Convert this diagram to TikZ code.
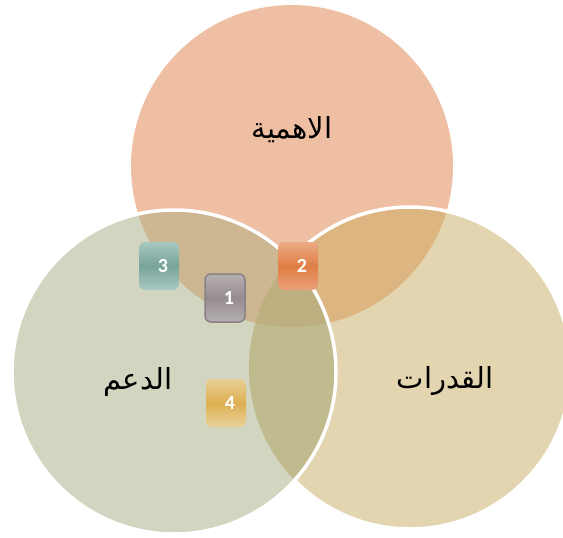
\documentclass[tikz,border=0pt]{standalone}
\usepackage{fontspec}
\setmainfont{Carlito}
\newfontfamily\arabicfont[Script=Arabic]{DejaVu Sans}
\TeXXeTstate=1

\definecolor{topfill}{HTML}{EFBFA3}
\definecolor{leftfill}{HTML}{D2D5BF}
\definecolor{rightfill}{HTML}{E2D5B0}
\definecolor{topleft}{HTML}{CDB692}
\definecolor{topright}{HTML}{DCB581}
\definecolor{leftright}{HTML}{C0BB8F}
\definecolor{allthree}{HTML}{BDAF7F}

\begin{document}
\begin{tikzpicture}[
    x=1pt,
    y=-1pt,
    every node/.style={inner sep=0pt},
    venntext/.style={font=\arabicfont\fontsize{29}{34}\selectfont},
    numbox/.style={minimum width=40pt, minimum height=48pt, rounded corners=6pt},
    numtext/.style={font=\bfseries\fontsize{20}{20}\selectfont, text=white}
]

    \useasboundingbox (0,0) rectangle (563,538);

    % the three circles
    \fill[topfill] (292,166) circle (161);
    \fill[leftfill] (174,372) circle (162);
    \fill[rightfill] (410,368) circle (161);

    % overlaps
    \begin{scope}
        \clip (292,166) circle (161);
        \fill[topleft] (174,372) circle (162);
        \fill[topright] (410,368) circle (161);
    \end{scope}
    \begin{scope}
        \clip (174,372) circle (162);
        \fill[leftright] (410,368) circle (161);
    \end{scope}
    \begin{scope}
        \clip (292,166) circle (161);
        \clip (174,372) circle (162);
        \fill[allthree] (410,368) circle (161);
    \end{scope}

    % white rims
    \begin{scope}[even odd rule]
        \clip (-10,-10) rectangle (600,600) (174,372) circle (162);
        \draw[white, line width=3.5pt] (410,368) circle (161);
    \end{scope}
    \draw[white, line width=3.5pt] (174,372) circle (162);

    % labels
    \node[venntext] (importance) at (292,130) {\beginR الاهمية\endR};
    \node[venntext] (support) at (138,382) {\beginR الدعم\endR};
    \node[venntext] (abilities) at (445,381) {\beginR القدرات\endR};

    % numbered boxes
    \node[numbox, top color={rgb,255:red,168;green,200;blue,194}, bottom color={rgb,255:red,170;green,202;blue,197}, middle color={rgb,255:red,120;green,163;blue,152}] (box3) at (159,266) {};
    \node[numbox, draw={rgb,255:red,138;green,129;blue,133}, line width=1.5pt, top color={rgb,255:red,182;green,176;blue,178}, bottom color={rgb,255:red,182;green,176;blue,178}, middle color={rgb,255:red,149;green,140;blue,144}] (box1) at (225,298) {};
    \node[numbox, top color={rgb,255:red,235;green,170;blue,133}, bottom color={rgb,255:red,235;green,160;blue,122}, middle color={rgb,255:red,224;green,127;blue,69}] (box2) at (298,266) {};
    \node[numbox, top color={rgb,255:red,232;green,207;blue,150}, bottom color={rgb,255:red,234;green,210;blue,154}, middle color={rgb,255:red,221;green,176;blue,82}] (box4) at (226,403) {};

    \node[numtext] (n3) at ([xshift=4pt]box3.center) {3};
    \node[numtext] (n1) at ([xshift=4pt]box1.center) {1};
    \node[numtext] (n2) at ([xshift=4pt]box2.center) {2};
    \node[numtext] (n4) at ([xshift=4pt]box4.center) {4};

\end{tikzpicture}
\end{document}
